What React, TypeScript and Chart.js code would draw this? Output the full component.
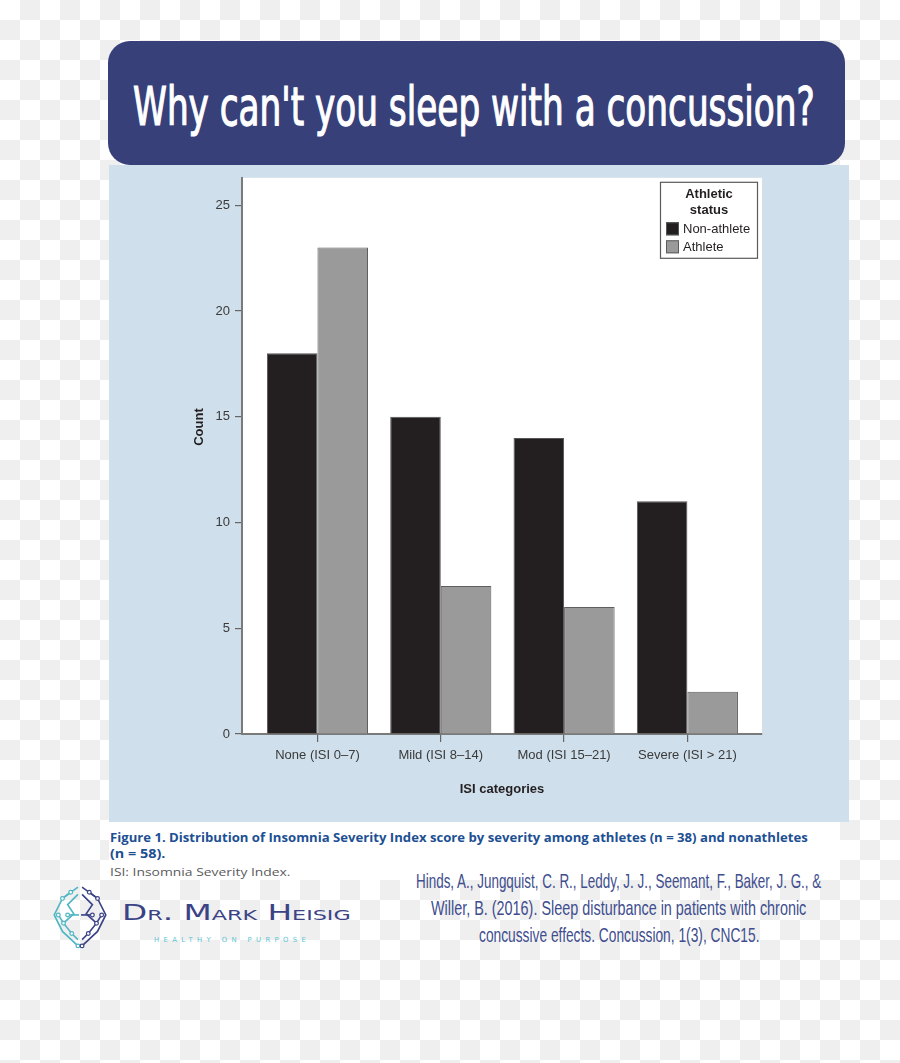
import React, { useEffect, useLayoutEffect, useRef, useState } from "react";
import { Chart, registerables } from "chart.js";

Chart.register(...registerables);

// ---------- data ----------
const categories = ["None (ISI 0–7)", "Mild (ISI 8–14)", "Mod (ISI 15–21)", "Severe (ISI > 21)"];
const nonAthlete = [18, 15, 14, 11];
const athlete = [23, 7, 6, 2];
const yTicks = [0, 5, 10, 15, 20, 25];
const seriesLabels = ["Non-athlete", "Athlete"];
const legendTitle = ["Athletic", "status"];
const yTitle = "Count";
const xTitle = "ISI categories";

const pageTitle = "Why can't you sleep with a concussion?";
const captionLines = [
  "Figure 1. Distribution of Insomnia Severity Index score by severity among athletes (n = 38) and nonathletes",
  "(n = 58).",
];
const captionNote = "ISI: Insomnia Severity Index.";
const citationLines = [
  "Hinds, A., Jungquist, C. R., Leddy, J. J., Seemant, F., Baker, J. G., &",
  "Willer, B. (2016). Sleep disturbance in patients with chronic",
  "concussive effects. Concussion, 1(3), CNC15.",
];
const logoName = "Dr. Mark Heisig";
const logoTagline = "HEALTHY ON PURPOSE";

const FONT = '"Liberation Sans", Arial, Helvetica, sans-serif';

// ---------- helpers ----------
function FitText(props: {
  text: string;
  left: number;
  top: number;
  width: number;
  style: React.CSSProperties;
}) {
  const ref = useRef<HTMLSpanElement>(null);
  const [s, setS] = useState(1);
  useLayoutEffect(() => {
    if (ref.current) {
      const w = ref.current.offsetWidth;
      if (w > 0) setS(props.width / w);
    }
  }, [props.text, props.width]);
  return (
    <div style={{ position: "absolute", left: props.left, top: props.top, whiteSpace: "nowrap" }}>
      <span
        ref={ref}
        style={{
          display: "inline-block",
          transformOrigin: "0 0",
          transform: `scaleX(${s})`,
          lineHeight: 1,
          ...props.style,
        }}
      >
        {props.text}
      </span>
    </div>
  );
}

const plotBg = {
  id: "plotBg",
  beforeDraw(chart: any) {
    const { ctx, chartArea: a } = chart;
    ctx.save();
    ctx.fillStyle = "#ffffff";
    ctx.fillRect(a.left, a.top, a.right - a.left, a.bottom - a.top);
    ctx.restore();
  },
};

const extras = {
  id: "extras",
  afterDraw(chart: any) {
    const { ctx, chartArea: a } = chart;
    ctx.save();
    // y axis title
    ctx.translate(90, 262);
    ctx.rotate(-Math.PI / 2);
    ctx.fillStyle = "#231f20";
    ctx.font = `bold 13px ${FONT}`;
    ctx.textAlign = "center";
    ctx.textBaseline = "middle";
    ctx.fillText(yTitle, 0, 0);
    ctx.restore();

    // boxed legend
    const w = 98;
    const h = 77;
    const x0 = a.right - 4 - w;
    const y0 = a.top + 4;
    ctx.save();
    ctx.fillStyle = "#ffffff";
    ctx.fillRect(x0, y0, w, h);
    ctx.strokeStyle = "#5a5a5a";
    ctx.lineWidth = 1.2;
    ctx.strokeRect(x0 + 0.5, y0 + 0.5, w - 1, h - 1);
    ctx.fillStyle = "#231f20";
    ctx.font = `bold 13px ${FONT}`;
    ctx.textAlign = "center";
    ctx.textBaseline = "middle";
    legendTitle.forEach((t, i) => ctx.fillText(t, x0 + w / 2, y0 + 13 + i * 16));
    ctx.font = `13px ${FONT}`;
    ctx.textAlign = "left";
    chart.data.datasets.forEach((ds: any, i: number) => {
      const cy = y0 + 47 + i * 18;
      ctx.fillStyle = ds.backgroundColor;
      ctx.fillRect(x0 + 6, cy - 6.5, 13, 13);
      ctx.strokeStyle = ds.borderColor;
      ctx.lineWidth = 1;
      ctx.strokeRect(x0 + 6.5, cy - 6, 12, 12);
      ctx.fillStyle = "#231f20";
      ctx.fillText(ds.label, x0 + 23, cy + 0.5);
    });
    ctx.restore();
  },
};

function BarChart() {
  const ref = useRef<HTMLCanvasElement>(null);
  useEffect(() => {
    if (!ref.current) return;
    const chart = new Chart(ref.current, {
      type: "bar",
      data: {
        datasets: [
          {
            label: seriesLabels[0],
            data: nonAthlete.map((v, i) => ({ x: i, y: v })),
            backgroundColor: "#231f20",
            borderColor: "#55555a",
            borderWidth: 1,
            categoryPercentage: 0.82,
            barPercentage: 1,
          },
          {
            label: seriesLabels[1],
            data: athlete.map((v, i) => ({ x: i, y: v })),
            backgroundColor: "#9a9a9a",
            borderColor: "#5e5e5e",
            borderWidth: 1,
            categoryPercentage: 0.82,
            barPercentage: 1,
          },
        ],
      } as any,
      options: {
        responsive: false,
        animation: false,
        devicePixelRatio: 1,
        layout: { padding: { left: 0, top: 10, right: 87, bottom: 25 } },
        plugins: {
          legend: { display: false },
          tooltip: { enabled: false },
        },
        scales: {
          x: {
            type: "linear",
            min: -0.612,
            max: 3.605,
            offset: false,
            grid: {
              offset: false,
              drawOnChartArea: false,
              drawTicks: true,
              tickLength: 8,
              color: "#666666",
              lineWidth: 1.2,
            },
            border: { display: true, color: "#7a7a7a", width: 2 },
            ticks: {
              stepSize: 1,
              includeBounds: false,
              autoSkip: false,
              maxRotation: 0,
              minRotation: 0,
              padding: 6,
              color: "#3a3a3a",
              font: { family: FONT, size: 13 },
              callback: (v: any) => categories[v as number] ?? "",
            },
            title: {
              display: true,
              text: xTitle,
              color: "#231f20",
              font: { family: FONT, size: 13, weight: "bold" },
              padding: 0,
            },
            afterBuildTicks: (s: any) => {
              s.ticks = categories.map((_, i) => ({ value: i }));
            },
            afterFit: (s: any) => {
              s.height = 63;
            },
          },
          y: {
            type: "linear",
            min: 0,
            max: 26.3,
            grid: {
              drawOnChartArea: false,
              drawTicks: true,
              tickLength: 7,
              color: "#666666",
              lineWidth: 1.2,
            },
            border: { display: true, color: "#7a7a7a", width: 2 },
            ticks: {
              includeBounds: false,
              padding: 5,
              color: "#3a3a3a",
              font: { family: FONT, size: 13 },
            },
            afterBuildTicks: (s: any) => {
              s.ticks = yTicks.map((v) => ({ value: v }));
            },
            afterFit: (s: any) => {
              s.width = 133;
            },
          },
        },
      } as any,
      plugins: [plotBg, extras],
    });
    return () => chart.destroy();
  }, []);
  return <canvas ref={ref} width={740} height={657} style={{ display: "block", width: 740, height: 657 }} />;
}

function BrainIcon() {
  const teal = "#4fb6c3";
  const navy = "#3b4386";
  const leftLines = [
    "M27,3 L12,14 L4,30 L12,46 L27,60",
    "M27,10 L17,20 L23,29 L13,38 L21,48 L27,54",
    "M13,38 L8,30",
    "M17,30 L28,30",
    "M12,14 L20,8",
  ];
  const rightLines = [
    "M31,3 L46,14 L54,30 L46,46 L31,60",
    "M31,10 L41,20 L35,29 L45,38 L37,48 L31,54",
    "M45,38 L50,30",
    "M30,30 L41,30",
    "M46,14 L38,8",
  ];
  const leftDots = [[20, 8], [12, 14], [8, 30], [17, 30], [13, 38], [21, 48], [27, 60]];
  const rightDots = [[38, 8], [46, 14], [50, 30], [41, 30], [45, 38], [37, 48], [31, 60]];
  return (
    <svg width={60} height={66} viewBox="0 0 58 64" style={{ position: "absolute", left: 50, top: 884 }}>
      {leftLines.map((d, i) => (
        <path key={"l" + i} d={d} fill="none" stroke={teal} strokeWidth={1.6} />
      ))}
      {rightLines.map((d, i) => (
        <path key={"r" + i} d={d} fill="none" stroke={navy} strokeWidth={1.6} />
      ))}
      {leftDots.map(([x, y], i) => (
        <circle key={"ld" + i} cx={x} cy={y} r={1.8} fill="#fff" stroke={teal} strokeWidth={1.2} />
      ))}
      {rightDots.map(([x, y], i) => (
        <circle key={"rd" + i} cx={x} cy={y} r={1.8} fill="#fff" stroke={navy} strokeWidth={1.2} />
      ))}
    </svg>
  );
}

export default function App() {
  return (
    <div
      style={{
        position: "absolute",
        left: 0,
        top: 0,
        width: 900,
        height: 1063,
        overflow: "hidden",
        background: "repeating-conic-gradient(#efefef 0 25%, #ffffff 0 50%) 0 0 / 40px 40px",
        fontFamily: FONT,
      }}
    >
      {/* title banner */}
      <div
        style={{
          position: "absolute",
          left: 108,
          top: 41,
          width: 737,
          height: 124,
          background: "#374079",
          borderRadius: 22,
        }}
      />
      <FitText
        text={pageTitle}
        left={133}
        top={80}
        width={682}
        style={{
          fontFamily: '"Liberation Sans Narrow", "DejaVu Sans Condensed", sans-serif',
          fontWeight: "normal",
          fontSize: 53,
          color: "#ffffff",
          WebkitTextStroke: "1.2px #ffffff",
        }}
      />

      {/* chart panel */}
      <div style={{ position: "absolute", left: 109, top: 165, width: 740, height: 657, background: "#cfdfeb" }}>
        <BarChart />
      </div>

      {/* caption */}
      <div style={{ position: "absolute", left: 109, top: 822, width: 731, height: 58, background: "#ffffff" }} />
      <FitText
        text={captionLines[0]}
        left={110}
        top={827.5}
        width={698}
        style={{ fontFamily: '"Open Sans", "Noto Sans", sans-serif', fontWeight: "bold", fontSize: 11.5, color: "#1d4f93" }}
      />
      <FitText
        text={captionLines[1]}
        left={110}
        top={843.5}
        width={55}
        style={{ fontFamily: '"Open Sans", "Noto Sans", sans-serif', fontWeight: "bold", fontSize: 11.5, color: "#1d4f93" }}
      />
      <FitText
        text={captionNote}
        left={110}
        top={861.8}
        width={181}
        style={{ fontFamily: '"Open Sans", "Noto Sans", sans-serif', fontSize: 11.5, color: "#5a5a5c" }}
      />

      {/* citation */}
      <FitText
        text={citationLines[0]}
        left={416}
        top={870}
        width={405}
        style={{ fontFamily: '"Liberation Sans Narrow", sans-serif', fontSize: 21, color: "#404d8e" }}
      />
      <FitText
        text={citationLines[1]}
        left={431}
        top={896.7}
        width={375}
        style={{ fontFamily: '"Liberation Sans Narrow", sans-serif', fontSize: 21, color: "#404d8e" }}
      />
      <FitText
        text={citationLines[2]}
        left={478.5}
        top={923.5}
        width={280.5}
        style={{ fontFamily: '"Liberation Sans Narrow", sans-serif', fontSize: 21, color: "#404d8e" }}
      />

      {/* logo */}
      <BrainIcon />
      <FitText
        text={logoName}
        left={121.7}
        top={902.6}
        width={229}
        style={{ fontFamily: '"DejaVu Sans", sans-serif', fontVariant: "small-caps", fontSize: 20.6, color: "#3b4386" }}
      />
      <FitText
        text={logoTagline}
        left={154}
        top={928}
        width={156}
        style={{ fontFamily: '"DejaVu Sans", sans-serif', fontSize: 7, letterSpacing: 4.5, color: "#5cc6d3" }}
      />
    </div>
  );
}
